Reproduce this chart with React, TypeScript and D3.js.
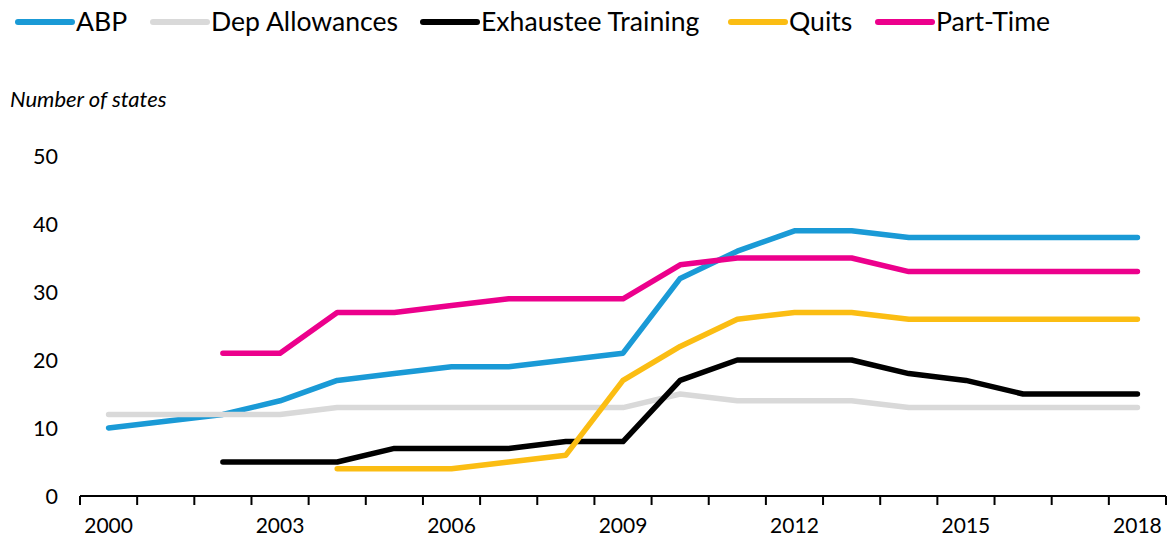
import React, { useRef, useEffect } from 'react';
import * as d3 from 'd3';

const years = d3.range(2000, 2019).map(String);
const tickLabels = ['2000', '2003', '2006', '2009', '2012', '2015', '2018'];
const yTicks = [0, 10, 20, 30, 40, 50];

// null = no data that year
const abp = [10, 11, 12, 14, 17, 18, 19, 19, 20, 21, 32, 36, 39, 39, 38, 38, 38, 38, 38];
const depAllowances = [12, 12, 12, 12, 13, 13, 13, 13, 13, 13, 15, 14, 14, 14, 13, 13, 13, 13, 13];
const exhausteeTraining = [null, null, 5, 5, 5, 7, 7, 7, 8, 8, 17, 20, 20, 20, 18, 17, 15, 15, 15];
const quits = [null, null, null, null, 4, 4, 4, 5, 6, 17, 22, 26, 27, 27, 26, 26, 26, 26, 26];
const partTime = [null, null, 21, 21, 27, 27, 28, 29, 29, 29, 34, 35, 35, 35, 33, 33, 33, 33, 33];

const seriesNames = ['ABP', 'Dep Allowances', 'Exhaustee Training', 'Quits', 'Part-Time'];
const seriesValues = [abp, depAllowances, exhausteeTraining, quits, partTime];
const colors = ['#1a9ad6', '#d9d9d9', '#000000', '#fbbd13', '#ec008c'];

const FONT = 'Lato, "Noto Sans", sans-serif';

const App = () => {
  const svgRef = useRef<SVGSVGElement>(null);

  useEffect(() => {
    const svg = d3.select(svgRef.current);
    svg.selectAll('*').remove();

    const x = d3.scaleBand().domain(years).range([80, 1166]);
    const y = d3.scaleLinear().domain([0, 50]).range([496, 156]);

    // x axis line + ticks
    const ax = svg.append('g');
    ax.append('line')
      .attr('x1', x.range()[0]).attr('x2', x.range()[1])
      .attr('y1', y(0)).attr('y2', y(0))
      .attr('stroke', '#000').attr('stroke-width', 2);
    const edges = years.map((yr) => x(yr) as number).concat([x.range()[1]]);
    ax.selectAll('line.tick')
      .data(edges)
      .enter()
      .append('line')
      .attr('class', 'tick')
      .attr('x1', (d) => d).attr('x2', (d) => d)
      .attr('y1', y(0)).attr('y2', y(0) + 9)
      .attr('stroke', '#000').attr('stroke-width', 2);
    ax.selectAll('text')
      .data(tickLabels)
      .enter()
      .append('text')
      .attr('x', (d) => (x(d) as number) + x.bandwidth() / 2)
      .attr('y', 533)
      .attr('text-anchor', 'middle')
      .attr('font-family', FONT)
      .attr('font-size', 21)
      .attr('fill', '#000')
      .text((d) => d);

    // y labels
    svg.append('g')
      .selectAll('text')
      .data(yTicks)
      .enter()
      .append('text')
      .attr('x', 58)
      .attr('y', (d) => y(d))
      .attr('dy', '0.38em')
      .attr('text-anchor', 'end')
      .attr('font-family', FONT)
      .attr('font-size', 21.5)
      .attr('fill', '#000')
      .text((d) => d);

    svg.append('text')
      .attr('x', 10)
      .attr('y', 107)
      .attr('font-family', FONT)
      .attr('font-style', 'italic')
      .attr('font-size', 22)
      .attr('fill', '#000')
      .text('Number of states');

    // lines
    const line = d3
      .line<number | null>()
      .defined((d) => d !== null)
      .x((_, i) => (x(years[i]) as number) + x.bandwidth() / 2)
      .y((d) => y(d as number));

    seriesValues.forEach((vals, i) => {
      svg.append('path')
        .datum(vals)
        .attr('fill', 'none')
        .attr('stroke', colors[i])
        .attr('stroke-width', 5.5)
        .attr('stroke-linecap', 'round')
        .attr('stroke-linejoin', 'round')
        .attr('d', line);
    });

    // legend
    const legendX = [18, 153, 423, 731, 878];
    const lg = svg.append('g');
    seriesNames.forEach((name, i) => {
      lg.append('line')
        .attr('x1', legendX[i]).attr('x2', legendX[i] + 54)
        .attr('y1', 22).attr('y2', 22)
        .attr('stroke', colors[i])
        .attr('stroke-width', 6)
        .attr('stroke-linecap', 'round');
      lg.append('text')
        .attr('x', legendX[i] + 58)
        .attr('y', 31)
        .attr('font-family', FONT)
        .attr('font-size', 26.6)
        .attr('fill', '#000')
        .text(name);
    });
  }, []);

  return (
    <svg
      ref={svgRef}
      width={1171}
      height={537}
      style={{ position: 'absolute', left: 0, top: 0, background: '#fff' }}
    />
  );
};

export default App;
